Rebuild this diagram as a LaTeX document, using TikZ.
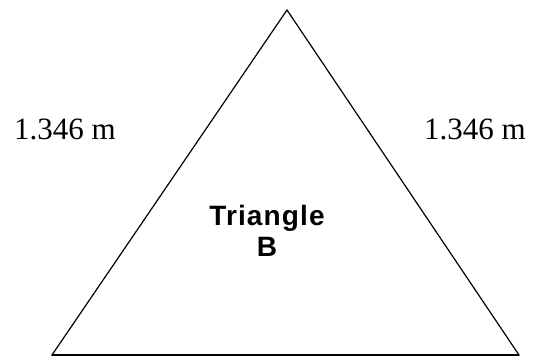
\documentclass[tikz,border=0pt]{standalone}
\usepackage{fontspec}
\setmainfont{Liberation Serif}
\newfontfamily\boldsans[LetterSpace=4]{Liberation Sans}
\tikzset{
  edge/.style={draw=black, line width=1.2pt, line join=miter},
  lenlabel/.style={font=\fontsize{31}{34}\selectfont, inner sep=0pt},
  namelabel/.style={font=\boldsans\bfseries\fontsize{28}{31}\selectfont, align=center, inner sep=0pt}
}
\begin{document}
\begin{tikzpicture}[x=1pt,y=-1pt]
\useasboundingbox (0,0) rectangle (538,358);
\fill[white] (0,0) rectangle (538,358);
\coordinate (apex) at (287,10);
\coordinate (bl) at (52,355);
\coordinate (br) at (519,355);
\draw[edge] (apex) -- (bl) -- (br) -- cycle;
\draw[black, line width=1.7pt] (bl) -- (br);
\node[lenlabel] (lleft) at (65,129) {1.346 m};
\node[lenlabel] (lright) at (475,129) {1.346 m};
\node[namelabel] (name) at (267,231) {Triangle\\B};
\end{tikzpicture}
\end{document}
